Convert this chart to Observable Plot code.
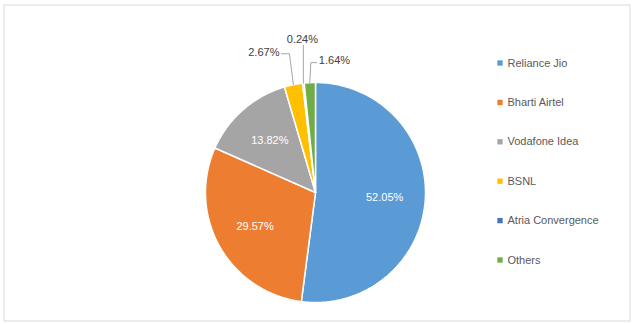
<!DOCTYPE html>
<html>
<head>
<meta charset="utf-8">
<script src="https://cdn.jsdelivr.net/npm/d3@7"></script>
<script src="https://cdn.jsdelivr.net/npm/@observablehq/plot@0.6"></script>
<style>
  html, body { margin: 0; padding: 0; background: #fff; }
  #chart svg { display: block; }
</style>
</head>
<body>
<div id="chart"></div>
<script>
// ---- data ----
const operators = ["Reliance Jio", "Bharti Airtel", "Vodafone Idea", "BSNL", "Atria Convergence", "Others"];
const shares = [52.05, 29.57, 13.82, 2.67, 0.24, 1.64];
const shareLabels = ["52.05%", "29.57%", "13.82%", "2.67%", "0.24%", "1.64%"];
const colors = ["#5B9BD5", "#ED7D31", "#A5A5A5", "#FFC000", "#4472C4", "#70AD47"];

// ---- layout ----
const W = 633, H = 324;
const cx = 315, cy = 192, R = 110;
const insideRadius = 0.63;           // fraction of radius for inside labels
const insideCount = 3;               // first three slices are labelled inside
// outside label placement (offsets from the slice's arc mid point)
const outsideText = [
  {dx: -14, dy: -32, anchor: "end"},
  {dx: -1, dy: -44, anchor: "middle"},
  {dx: 9, dy: -22, anchor: "start"}
];
const outsideLeader = [
  [[0, 0], [-4, -31], [-12, -31]],
  [[0, 0], [0, -38]],
  [[0, 0], [1, -20], [7, -20]]
];
const legendX = 499.5, legendTextX = 507, legendY0 = 62.5, legendStep = 39.4;

// ---- geometry from data ----
const data = operators.map((op, i) => ({operator: op, share: shares[i], label: shareLabels[i], i}));
const arcs = d3.pie().sort(null).value(d => d.share)(data);
const px = (a, r) => cx + r * Math.sin(a);
const py = (a, r) => cy - r * Math.cos(a);

const slicePts = [];
arcs.forEach(a => {
  const n = Math.max(2, Math.ceil((a.endAngle - a.startAngle) / (2 * Math.PI) * 360));
  slicePts.push({operator: a.data.operator, x: cx, y: cy});
  for (let k = 0; k <= n; k++) {
    const t = a.startAngle + (a.endAngle - a.startAngle) * k / n;
    slicePts.push({operator: a.data.operator, x: px(t, R), y: py(t, R)});
  }
  slicePts.push({operator: a.data.operator, x: cx, y: cy});
});

const insideLabels = arcs.slice(0, insideCount).map(a => {
  const m = (a.startAngle + a.endAngle) / 2;
  return {label: a.data.label, x: px(m, R * insideRadius), y: py(m, R * insideRadius)};
});

const outsideLabels = [];
const leaderPts = [];
arcs.slice(insideCount).forEach((a, j) => {
  const m = (a.startAngle + a.endAngle) / 2;
  const ex = px(m, R), ey = py(m, R);
  const o = outsideText[j];
  outsideLabels.push({label: a.data.label, x: ex + o.dx, y: ey + o.dy, anchor: o.anchor});
  outsideLeader[j].forEach(([dx, dy]) => leaderPts.push({k: j, x: ex + dx, y: ey + dy}));
});

const legendRows = operators.map((op, i) => ({operator: op, y: legendY0 + i * legendStep}));

const font = "'Liberation Sans', Arial, sans-serif";

const chart = Plot.plot({
  width: W,
  height: H,
  margin: 0,
  x: {domain: [0, W], range: [0, W], axis: null},
  y: {domain: [0, H], range: [0, H], axis: null},
  color: {domain: operators, range: colors},
  style: {fontFamily: font, background: "#fff"},
  marks: [
    Plot.frame({stroke: "#d9d9d9", insetLeft: 3.5, insetTop: 4.5, insetRight: 3.5, insetBottom: 3.5}),
    Plot.line(slicePts, {x: "x", y: "y", z: "operator", fill: "operator", stroke: "#fff", strokeWidth: 1.5, strokeLinejoin: "miter", curve: "linear"}),
    Plot.line(leaderPts, {x: "x", y: "y", z: "k", stroke: "#a6a6a6", strokeWidth: 1}),
    Plot.text(insideLabels, {x: "x", y: "y", text: "label", fill: "#fff", fontSize: 11}),
    Plot.text(outsideLabels.filter(d => d.anchor === "end"), {x: "x", y: "y", text: "label", textAnchor: "end", fill: "#404040", fontSize: 11}),
    Plot.text(outsideLabels.filter(d => d.anchor === "middle"), {x: "x", y: "y", text: "label", textAnchor: "middle", fill: "#404040", fontSize: 11}),
    Plot.text(outsideLabels.filter(d => d.anchor === "start"), {x: "x", y: "y", text: "label", textAnchor: "start", fill: "#404040", fontSize: 11}),
    Plot.dot(legendRows, {x: () => legendX, y: "y", symbol: "square", r: 3, fill: "operator", stroke: null}),
    Plot.text(legendRows, {x: () => legendTextX, y: "y", text: "operator", textAnchor: "start", fill: "#595959", fontSize: 11})
  ]
});
document.getElementById("chart").appendChild(chart);
</script>
</body>
</html>
